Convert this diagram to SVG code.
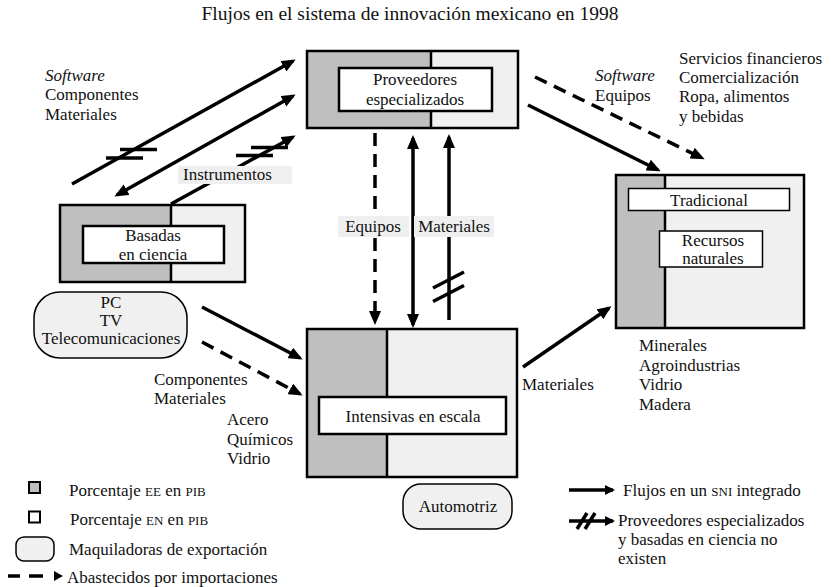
<svg xmlns="http://www.w3.org/2000/svg" width="831" height="587" viewBox="0 0 831 587" font-family="'Liberation Serif', 'DejaVu Serif', serif">
<style>
text{font-family:'Liberation Serif','DejaVu Serif',serif;font-size:17px;fill:#111}
.c{text-anchor:middle}
.it{font-style:italic}
.sc{font-size:13px}
.box{stroke:#000;stroke-width:2.5}
.g{fill:#bfbfbf}
.l{fill:#f0f0f0}
.w{fill:#fff;stroke:#000;stroke-width:2.5}
.ar{stroke:#000;stroke-width:3.5;fill:none}
.ds{stroke-dasharray:13 8}
.bar{stroke:#000;stroke-width:3.5}
.bg{fill:#efefef}
</style>
<defs>
<marker id="ah" markerUnits="userSpaceOnUse" viewBox="0 0 14 12" markerWidth="14" markerHeight="12" refX="11" refY="6" orient="auto-start-reverse">
<path d="M0,0 L14,6 L0,12 z" fill="#000"/>
</marker>
<marker id="ahs" markerUnits="userSpaceOnUse" viewBox="0 0 10 10" markerWidth="10" markerHeight="10" refX="8" refY="5" orient="auto">
<path d="M0,0 L10,5 L0,10 z" fill="#000"/>
</marker>
</defs>

<text class="c" x="410" y="20" style="font-size:19.5px">Flujos en el sistema de innovación mexicano en 1998</text>

<g id="proveedores">
<rect class="g" x="307" y="51" width="124" height="77"/>
<rect class="l" x="431" y="51" width="87" height="77"/>
<rect class="box" x="307" y="51" width="211" height="77" fill="none"/>
<line x1="431" y1="51" x2="431" y2="128" stroke="#000" stroke-width="2.5"/>
<rect class="w" x="339" y="68" width="153" height="43"/>
<text class="c" x="415" y="85">Proveedores</text>
<text class="c" x="415" y="105">especializados</text>
</g>

<g id="basadas">
<rect class="g" x="60" y="205" width="111" height="77"/>
<rect class="l" x="171" y="205" width="74" height="77"/>
<rect class="box" x="60" y="205" width="185" height="77" fill="none"/>
<line x1="171" y1="205" x2="171" y2="282" stroke="#000" stroke-width="2.5"/>
<rect class="w" x="83" y="226" width="141" height="37"/>
<text class="c" x="153" y="241">Basadas</text>
<text class="c" x="153" y="260">en ciencia</text>
</g>

<g id="maquila">
<rect x="34" y="292" width="153" height="66" rx="26" fill="#f0f0f0" stroke="#000" stroke-width="1.5"/>
<text class="c" x="111" y="308">PC</text>
<text class="c" x="111" y="326">TV</text>
<text class="c" x="111" y="344">Telecomunicaciones</text>
</g>

<g id="intensivas">
<rect class="g" x="307" y="329" width="80" height="148"/>
<rect class="l" x="387" y="329" width="130" height="148"/>
<rect class="box" x="307" y="329" width="210" height="148" fill="none"/>
<line x1="387" y1="329" x2="387" y2="477" stroke="#000" stroke-width="2.5"/>
<rect class="w" x="319" y="397" width="187" height="37"/>
<text class="c" x="413" y="422">Intensivas en escala</text>
</g>

<g id="automotriz">
<rect x="403" y="484" width="109" height="45" rx="18" fill="#f0f0f0" stroke="#000" stroke-width="1.5"/>
<text class="c" x="458" y="512">Automotriz</text>
</g>

<g id="tradicional">
<rect class="g" x="616" y="175" width="49" height="153"/>
<rect class="l" x="665" y="175" width="139" height="153"/>
<rect class="box" x="616" y="175" width="188" height="153" fill="none"/>
<line x1="665" y1="175" x2="665" y2="328" stroke="#000" stroke-width="2.5"/>
<rect x="628.5" y="188.5" width="161" height="22" fill="#fff" stroke="#000" stroke-width="1.5"/>
<text class="c" x="709" y="206">Tradicional</text>
<rect x="659.5" y="231" width="103" height="36" fill="#fff" stroke="#000" stroke-width="1.5"/>
<text class="c" x="713" y="246">Recursos</text>
<text class="c" x="713" y="264">naturales</text>
</g>

<g id="connectors">
<line class="ar" x1="72" y1="184" x2="293" y2="61" marker-end="url(#ah)"/>
<line class="ar" x1="117" y1="195" x2="293" y2="96" marker-start="url(#ah)" marker-end="url(#ah)"/>
<line class="ar" x1="171" y1="204" x2="293" y2="137" marker-end="url(#ah)"/>
<line class="bar" x1="120" y1="149.5" x2="157" y2="149.5"/>
<line class="bar" x1="106" y1="158" x2="143" y2="158"/>
<line class="bar" x1="251" y1="147.5" x2="288" y2="147.5"/>
<line class="bar" x1="236" y1="155.5" x2="273" y2="155.5"/>

<line class="ar ds" x1="535" y1="77" x2="702" y2="158" marker-end="url(#ah)"/>
<line class="ar" x1="528" y1="105" x2="658" y2="170" marker-end="url(#ah)"/>

<line class="ar ds" x1="375" y1="133" x2="375" y2="322" marker-end="url(#ah)"/>
<line class="ar" x1="413" y1="138" x2="413" y2="325" marker-start="url(#ah)" marker-end="url(#ah)"/>
<line class="ar" x1="449" y1="320" x2="449" y2="137" marker-end="url(#ah)"/>
<line class="bar" x1="433" y1="288" x2="464" y2="272"/>
<line class="bar" x1="433" y1="301.5" x2="464" y2="285.5"/>

<line class="ar" x1="202" y1="307" x2="300" y2="358" marker-end="url(#ah)"/>
<line class="ar ds" x1="202" y1="342" x2="300" y2="394" marker-end="url(#ah)"/>
<line class="ar" x1="523" y1="367" x2="609" y2="308" marker-end="url(#ah)"/>
</g>

<g id="labels">
<text class="it" x="45" y="81">Software</text>
<text x="45" y="100">Componentes</text>
<text x="45" y="120">Materiales</text>
<rect class="bg" x="178" y="166" width="114" height="18"/>
<text x="183" y="180">Instrumentos</text>
<text class="it" x="595" y="81">Software</text>
<text x="595" y="101">Equipos</text>
<text x="679" y="64">Servicios financieros</text>
<text x="679" y="83">Comercialización</text>
<text x="679" y="102">Ropa, alimentos</text>
<text x="679" y="122">y bebidas</text>
<rect class="bg" x="338" y="216" width="71" height="21"/>
<text class="c" x="373" y="232">Equipos</text>
<rect class="bg" x="414" y="216" width="80" height="21"/>
<text class="c" x="454" y="232">Materiales</text>
<text x="154" y="385">Componentes</text>
<text x="154" y="404">Materiales</text>
<text x="227" y="425">Acero</text>
<text x="227" y="445">Químicos</text>
<text x="227" y="464">Vidrio</text>
<text x="522" y="390">Materiales</text>
<text x="639" y="351">Minerales</text>
<text x="639" y="371">Agroindustrias</text>
<text x="639" y="390">Vidrio</text>
<text x="639" y="410">Madera</text>
</g>

<g id="legend">
<rect x="29" y="482" width="11" height="11" fill="#bfbfbf" stroke="#000" stroke-width="2"/>
<text x="69" y="496">Porcentaje <tspan class="sc">EE</tspan> en <tspan class="sc">PIB</tspan></text>
<rect x="29" y="511.5" width="11" height="11" fill="#fff" stroke="#000" stroke-width="2"/>
<text x="70" y="525">Porcentaje <tspan class="sc">EN</tspan> en <tspan class="sc">PIB</tspan></text>
<rect x="16" y="537" width="38" height="24" rx="8" fill="#f0f0f0" stroke="#000" stroke-width="1.5"/>
<text x="69" y="555">Maquiladoras de exportación</text>
<line x1="8" y1="576" x2="20" y2="576" stroke="#000" stroke-width="3.5"/>
<line x1="29" y1="576" x2="43" y2="576" stroke="#000" stroke-width="3.5"/>
<path d="M54,571 L63,576 L54,581 z" fill="#000"/>
<text x="67" y="583">Abastecidos por importaciones</text>
<line class="ar" x1="569" y1="490" x2="613" y2="490" marker-end="url(#ahs)"/>
<text x="623" y="496">Flujos en un <tspan class="sc">SNI</tspan> integrado</text>
<line class="ar" x1="569" y1="521" x2="613" y2="521" marker-end="url(#ahs)"/>
<line class="bar" x1="577" y1="529" x2="587" y2="513" stroke-width="3"/>
<line class="bar" x1="585" y1="529" x2="595" y2="513" stroke-width="3"/>
<text x="618" y="526">Proveedores especializados</text>
<text x="618" y="545">y basadas en ciencia no</text>
<text x="618" y="564">existen</text>
</g>
</svg>
